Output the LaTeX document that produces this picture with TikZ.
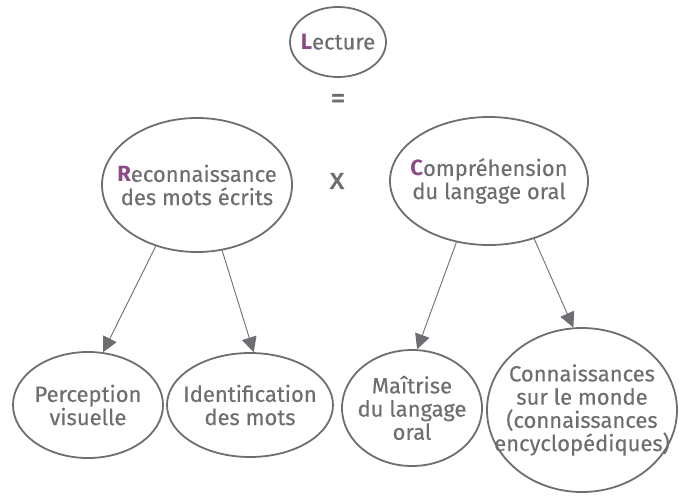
\documentclass[tikz,border=0pt]{standalone}
\usepackage{fontspec}
\setmainfont{Fira Sans}[UprightFeatures={FakeBold=0.3}]
\newfontfamily\symfont{Fira Sans}[UprightFeatures={FakeBold=1.2}]
\usetikzlibrary{shapes.geometric,arrows.meta}
\definecolor{txtgrey}{HTML}{6D6E71}
\definecolor{initpurple}{HTML}{8B4A87}
\newcommand{\ini}[1]{\textcolor{initpurple}{\bfseries #1}}
\tikzset{
  bubble/.style={ellipse, draw=txtgrey, line width=1.8pt, inner sep=-30pt,
    text=txtgrey, align=center, font=\fontsize{22}{23.2}\selectfont},
  arr/.style={draw=txtgrey, line width=0.9pt, -{Triangle[length=15pt,width=15pt]}},
  sym/.style={text=txtgrey, font=\symfont\fontsize{30}{30}\selectfont}
}
\begin{document}
\begin{tikzpicture}[x=1pt,y=-1pt]
\useasboundingbox (0,0) rectangle (679,498);
\node[bubble, minimum width=96pt, minimum height=70pt] (lec) at (338,42) {\ini{L}ecture};
\node[sym] (eq) at (338,101) {=};
\node[bubble, minimum width=190pt, minimum height=134pt] (rec) at (197,185) {\ini{R}econnaissance\\des mots écrits};
\node[sym] (times) at (337,181) {x};
\node[bubble, minimum width=198pt, minimum height=128pt] (comp) at (489,181) {\ini{C}ompréhension\\du langage oral};
\node[bubble, minimum width=150pt, minimum height=106pt] (perc) at (88,405) {Perception\\visuelle};
\node[bubble, minimum width=166pt, minimum height=104pt] (iden) at (250,405) {Identification\\des mots};
\node[bubble, minimum width=140pt, minimum height=116pt] (mait) at (412,408) {Maîtrise\\du langage\\oral};
\node[bubble, minimum width=190pt, minimum height=164pt] (conn) at (582,410) {Connaissances\\sur le monde\\(connaissances\\encyclopédiques)};
\draw[arr] (rec.236) -- (perc.74);
\draw[arr] (rec.291) -- (iden.86);
\draw[arr] (comp.242) -- (mait.85);
\draw[arr] (comp.308) -- (conn.96);
\end{tikzpicture}
\end{document}
